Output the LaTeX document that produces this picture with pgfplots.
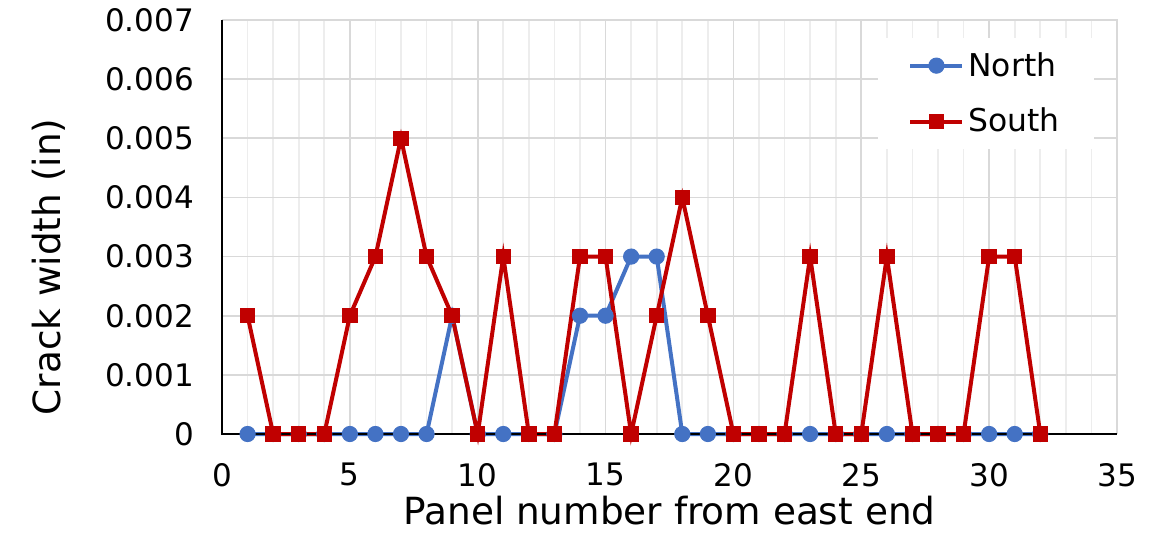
\documentclass[border=0pt]{standalone}
\usepackage{pgfplots}
\pgfplotsset{compat=1.18}
\usepackage{fontspec}
\setmainfont{DejaVu Sans}
\definecolor{northc}{HTML}{4472C4}
\definecolor{southc}{HTML}{C00000}
\definecolor{majg}{HTML}{D9D9D9}
\definecolor{ming}{HTML}{EDEDED}
\begin{document}
\begin{tikzpicture}
\path[use as bounding box] (-111pt,-51pt) rectangle (471.5pt,217pt);
\begin{axis}[
  scale only axis,
  width=447.5pt, height=207pt,
  at={(0,0)}, anchor=south west,
  xmin=0, xmax=35, ymin=0, ymax=0.007,
  xtick={0,5,...,35}, minor xtick={1,2,...,35},
  ytick={0,0.001,...,0.007},
  yticklabels={0,0.001,0.002,0.003,0.004,0.005,0.006,0.007},
  scaled y ticks=false,
  /pgf/number format/assume math mode=true,
  tick label style={font=\fontsize{15.5}{18}\selectfont},
  xticklabel style={yshift=-11pt},
  yticklabel style={xshift=-10.5pt},
  label style={font=\fontsize{18.7}{22}\selectfont},
  xlabel={Panel number from east end},
  ylabel={Crack width (in)},
  xlabel style={yshift=2pt},
  ylabel style={yshift=13pt, xshift=-20pt},
  grid=both,
  major grid style={majg, line width=0.8pt},
  minor grid style={ming, line width=0.8pt},
  axis line style={draw=none},
  tick style={draw=none},
  legend style={at={(0.733,0.957)}, anchor=north west, draw=none, fill=white,
    font=\fontsize{15.7}{18}\selectfont, row sep=10.5pt, inner xsep=15pt, inner ysep=5pt},
  legend image code/.code={\draw[#1] (0pt,0pt) -- (13pt,0pt) -- (26pt,0pt); \draw[#1, mark repeat=2, mark phase=2] plot coordinates {(0pt,0pt) (13pt,0pt) (26pt,0pt)};},
  legend cell align=left,
  clip=false,
]
\draw[majg, line width=0.8pt] (axis cs:0,0.007) -- (axis cs:35,0.007) -- (axis cs:35,0);
\addplot[northc, line width=2pt, mark=*, mark size=3.8pt, mark options={solid,fill=northc,draw=northc,line width=0.5pt}] coordinates {
(1,0)(2,0)(3,0)(4,0)(5,0)(6,0)(7,0)(8,0)(9,0.002)(10,0)(11,0)(12,0)(13,0)(14,0.002)(15,0.002)(16,0.003)(17,0.003)(18,0)(19,0)(20,0)(21,0)(22,0)(23,0)(24,0)(25,0)(26,0)(27,0)(28,0)(29,0)(30,0)(31,0)(32,0)};
\addlegendentry{North}
\addplot[southc, line width=2pt, mark=square*, mark size=3.6pt, mark options={solid,fill=southc,draw=southc,line width=0.5pt}] coordinates {
(1,0.002)(2,0)(3,0)(4,0)(5,0.002)(6,0.003)(7,0.005)(8,0.003)(9,0.002)(10,0)(11,0.003)(12,0)(13,0)(14,0.003)(15,0.003)(16,0)(17,0.002)(18,0.004)(19,0.002)(20,0)(21,0)(22,0)(23,0.003)(24,0)(25,0)(26,0.003)(27,0)(28,0)(29,0)(30,0.003)(31,0.003)(32,0)};
\addlegendentry{South}
\draw[black, line width=0.9pt] (axis cs:0,0.007) -- (axis cs:0,0) -- (axis cs:35,0);
\end{axis}
\end{tikzpicture}
\end{document}
